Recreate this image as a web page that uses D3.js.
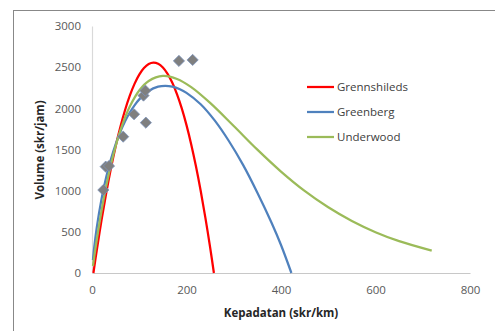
<!DOCTYPE html>
<html>
<head>
<meta charset="utf-8">
<script src="https://cdn.jsdelivr.net/npm/d3@7"></script>
<style>
  body { margin: 0; background: #fff; }
  svg { display: block; font-family: "Open Sans", sans-serif; }
</style>
</head>
<body>
<svg width="495" height="331"></svg>
<script>
// observed points (density, volume)
const obsK = [24, 29, 36, 66, 89, 109, 113, 114, 184, 213]
const obsV = [1008, 1292, 1300, 1656, 1928, 2155, 2215, 1826, 2576, 2588]

// model curves
const greenshieldsK = [3, 10, 20, 30, 40, 50, 60, 70, 80, 90, 100, 110, 120, 130, 140, 150, 160, 170, 180, 190, 200, 210, 220, 230, 240, 250, 258]
const greenshieldsV = [0, 273, 636, 968, 1268, 1537, 1774, 1980, 2154, 2297, 2409, 2489, 2538, 2555, 2541, 2495, 2418, 2310, 2170, 1999, 1796, 1562, 1296, 999, 670, 311, 0]

const greenbergK = [2, 5, 10, 20, 30, 40, 50, 60, 70, 80, 90, 100, 120, 140, 155, 170, 186, 200, 230, 260, 290, 320, 350, 380, 400, 422]
const greenbergV = [157, 325, 548, 893, 1162, 1381, 1562, 1715, 1842, 1949, 2037, 2109, 2211, 2263, 2274, 2264, 2232, 2188, 2050, 1850, 1600, 1310, 975, 610, 340, 0]

const underwoodK = [2, 5, 10, 20, 30, 40, 50, 60, 70, 80, 100, 120, 150, 180, 210, 250, 300, 350, 400, 450, 500, 550, 600, 650, 719]
const underwoodV = [85, 207, 401, 750, 1054, 1316, 1540, 1731, 1890, 2023, 2217, 2332, 2393, 2357, 2258, 2066, 1785, 1498, 1232, 997, 798, 632, 496, 387, 272]

const seriesNames = ["Grennshileds", "Greenberg", "Underwood"]
const seriesColors = ["#ff0000", "#4f81bd", "#9bbb59"]

const xTicks = [0, 200, 400, 600, 800]
const yTicks = [0, 500, 1000, 1500, 2000, 2500, 3000]

const svg = d3.select("svg")

// outer frame (chart area border, runs off the right/bottom edge)
svg.append("rect")
  .attr("x", 13.5).attr("y", 10.5)
  .attr("width", 520).attr("height", 400)
  .attr("fill", "none").attr("stroke", "#888").attr("stroke-width", 1)

const x = d3.scaleLinear().domain([0, 800]).range([92, 470])
const y = d3.scaleLinear().domain([0, 3000]).range([273, 26])

// y axis
const yAxis = svg.append("g")
  .attr("transform", "translate(92,0)")
  .call(d3.axisLeft(y).tickValues(yTicks).tickFormat(d3.format("d")).tickSize(0).tickPadding(11))
yAxis.select(".domain").attr("stroke", "#d9d9d9").attr("stroke-width", 1.2)
yAxis.selectAll("text").attr("fill", "#595959").attr("font-size", 11.5)
  .attr("font-family", "Open Sans, sans-serif")

// x axis
const xAxis = svg.append("g")
  .attr("transform", "translate(0,273)")
  .call(d3.axisBottom(x).tickValues(xTicks).tickFormat(d3.format("d")).tickSize(0).tickPadding(13))
xAxis.select(".domain").attr("stroke", "#c8c8c8").attr("stroke-width", 1.2)
xAxis.selectAll("text").attr("fill", "#595959").attr("font-size", 11.5)
  .attr("font-family", "Open Sans, sans-serif")

// axis titles
svg.append("text")
  .attr("x", 281).attr("y", 317)
  .attr("text-anchor", "middle")
  .attr("font-size", 11.5).attr("font-weight", "bold").attr("fill", "#262626")
  .text("Kepadatan (skr/km)")

svg.append("text")
  .attr("transform", "translate(44,150) rotate(-90)")
  .attr("text-anchor", "middle")
  .attr("font-size", 11.5).attr("font-weight", "bold").attr("fill", "#262626")
  .text("Volume (skr/jam)")

const line = d3.line()
  .x(d => x(d[0]))
  .y(d => y(d[1]))
  .curve(d3.curveCatmullRom)

const curves = [
  d3.zip(greenshieldsK, greenshieldsV),
  d3.zip(greenbergK, greenbergV),
  d3.zip(underwoodK, underwoodV)
]

svg.append("g").selectAll("path")
  .data(curves)
  .join("path")
  .attr("d", line)
  .attr("fill", "none")
  .attr("stroke", (d, i) => seriesColors[i])
  .attr("stroke-width", 2.25)

// diamonds sit on top of the curves
svg.append("g").selectAll("path")
  .data(d3.zip(obsK, obsV))
  .join("path")
  .attr("transform", d => `translate(${x(d[0])},${y(d[1])})`)
  .attr("d", d3.symbol(d3.symbolDiamond2, 80))
  .attr("fill", "#7f7f7f")
  .attr("stroke", "#7b93bd")
  .attr("stroke-width", 0.8)

// legend
const legend = svg.append("g")
  .selectAll("g")
  .data(seriesNames)
  .join("g")
  .attr("transform", (d, i) => `translate(307,${87 + i * 25})`)

legend.append("line")
  .attr("x1", 0).attr("x2", 27)
  .attr("stroke", (d, i) => seriesColors[i])
  .attr("stroke-width", 2.25)

legend.append("text")
  .attr("x", 30).attr("dy", "0.35em")
  .attr("font-size", 11.5).attr("fill", "#404040")
  .text(d => d)
</script>
</body>
</html>
